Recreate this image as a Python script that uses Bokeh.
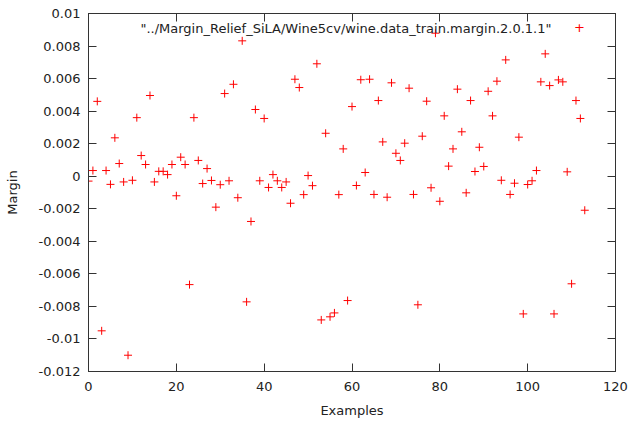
from bokeh.plotting import figure
from bokeh.models import LinearAxis, FixedTicker, Label, CustomJSTickFormatter, ColumnDataSource
from bokeh.embed import file_html
from bokeh.resources import INLINE

# ---- data ----
examples = list(range(114))
margin = [
    -0.0003, 0.00035, 0.0046, -0.0095, 0.00035, -0.0005, 0.00236, 0.00078, -0.00035, -0.011,
    -0.00025, 0.0036, 0.00127, 0.00072, 0.00496, -0.00035, 0.0003, 0.0003, 0.0001, 0.00072,
    -0.0012, 0.00117, 0.00072, -0.00666, 0.0036, 0.00097, -0.00045, 0.00047, -0.00026, -0.0019,
    -0.00052, 0.00508, -0.00028, 0.00565, -0.00132, 0.00832, -0.00772, -0.00278, 0.0041, -0.00028,
    0.00355, -0.00069, 0.0001, -0.00028, -0.00069, -0.00035, -0.00166, 0.00596, 0.00545, -0.00113,
    0.00004, -0.00058, 0.00691, -0.00883, 0.00264, -0.00864, -0.0084, -0.00113, 0.00168, -0.00764,
    0.00428, -0.00057, 0.00593, 0.00023, 0.00596, -0.00112, 0.00465, 0.00211, -0.00129, 0.00574,
    0.00141, 0.00097, 0.00203, 0.00541, -0.00112, -0.0079, 0.00246, 0.00461, -0.00071, 0.00879,
    -0.00154, 0.00371, 0.00062, 0.00168, 0.00535, 0.00273, -0.00102, 0.00465, 0.00029, 0.00178,
    0.0006, 0.00522, 0.00371, 0.00584, -0.00025, 0.00715, -0.00112, -0.00043, 0.0024, -0.00846,
    -0.00051, -0.00028, 0.00035, 0.0058, 0.00752, 0.00557, -0.00846, 0.00592, 0.0058, 0.00027,
    -0.00661, 0.00465, 0.00355, -0.00209,
]
x_ticks = [0, 20, 40, 60, 80, 100, 120]
y_ticks = [-0.012, -0.01, -0.008, -0.006, -0.004, -0.002, 0, 0.002, 0.004, 0.006, 0.008, 0.01]
y_tick_labels = ["-0.012", "-0.01", "-0.008", "-0.006", "-0.004", "-0.002", "0",
                 "0.002", "0.004", "0.006", "0.008", "0.01"]
series_title = '"../Margin_Relief_SiLA/Wine5cv/wine.data_train.margin.2.0.1.1"'

FONT = "DejaVu Sans"
FS = "13px"
TXT = "#222222"
LINE = "#333333"

p = figure(width=629, height=426, x_range=(0, 120), y_range=(-0.012, 0.01),
           output_backend="svg", toolbar_location=None,
           min_border_left=88, min_border_right=14, min_border_top=13, min_border_bottom=55)
p.grid.visible = False
p.outline_line_color = LINE
p.outline_line_width = 1
p.background_fill_color = "white"
p.border_fill_color = "white"

src = ColumnDataSource(dict(x=examples, y=margin))
p.scatter("x", "y", source=src, marker="cross", size=8, line_color="#ff0000", line_width=1)

top = LinearAxis()
right = LinearAxis()
p.add_layout(top, "above")
p.add_layout(right, "right")

for ax in p.xaxis:
    ax.ticker = FixedTicker(ticks=x_ticks)
for ax in p.yaxis:
    ax.ticker = FixedTicker(ticks=y_ticks)

p.left[0].major_label_overrides = {v: s for v, s in zip(y_ticks, y_tick_labels)}

for ax in p.xaxis + p.yaxis:
    ax.major_tick_in = 8
    ax.major_tick_out = 0
    ax.minor_tick_in = 0
    ax.minor_tick_out = 0
    ax.axis_line_color = LINE
    ax.major_tick_line_color = LINE
    ax.major_label_text_font = FONT
    ax.major_label_text_font_size = FS
    ax.major_label_text_color = TXT
    ax.axis_label_text_font = FONT
    ax.axis_label_text_font_size = FS
    ax.axis_label_text_font_style = "normal"
    ax.axis_label_text_color = TXT

for ax in (top, right):
    ax.formatter = CustomJSTickFormatter(code="return ''")
    ax.major_label_standoff = 0

p.below[0].axis_label = "Examples"
p.below[0].major_label_standoff = 10
p.below[0].axis_label_standoff = 9
p.left[0].axis_label = "Margin"
p.left[0].major_label_standoff = 8
p.left[0].axis_label_standoff = 16

# key (gnuplot style: title then sample)
p.add_layout(Label(x=463, y=343, x_units="screen", y_units="screen", text=series_title,
                   text_align="right", text_baseline="middle", text_font=FONT,
                   text_font_size=FS, text_color=TXT))
p.add_layout(Label(x=491, y=344, x_units="screen", y_units="screen", text="+",
                   text_align="center", text_baseline="middle", text_font=FONT,
                   text_font_size="13px", text_color="#ff0000"))

open("out.html", "w").write(file_html(p, INLINE))
